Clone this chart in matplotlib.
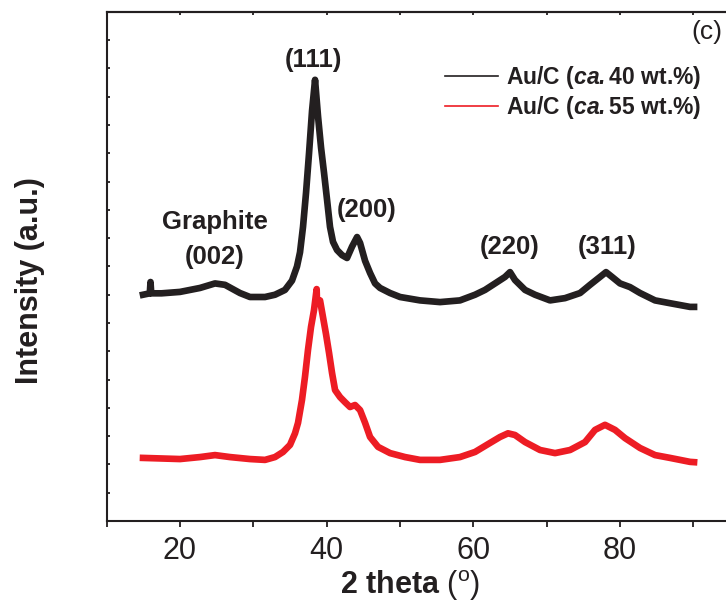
import matplotlib
matplotlib.use('Agg')
from matplotlib import pyplot as plt
from matplotlib import font_manager
from matplotlib.lines import Line2D

# values
theta_40 = [14.98, 15.9, 16.0, 16.1, 17.5, 20.02, 22.75, 24.79, 26.16, 28.2, 29.56, 31.61,
            32.97, 34.33, 35.29, 35.97, 36.38, 36.79, 37.2, 37.61, 38.02, 38.43, 38.84,
            39.25, 39.66, 40.07, 40.47, 40.88, 41.43, 42.11, 42.79, 43.47, 44.16, 44.57,
            45.25, 45.93, 46.61, 47.29, 48.66, 50.02, 52.74, 55.47, 58.19, 60.24, 61.6,
            62.97, 64.33, 65.01, 65.69, 67.06, 68.42, 70.47, 72.51, 74.56, 75.92, 77.28,
            78.1, 78.92, 80.01, 81.37, 82.74, 84.78, 86.83, 89.55, 90.1]
inten_40 = [8.0, 8.05, 8.45, 8.05, 8.05, 8.1, 8.24, 8.4, 8.35, 8.06, 7.92, 7.92,
            8.0, 8.17, 8.5, 9.0, 9.5, 10.4, 11.6, 13.0, 14.5, 15.6, 14.3,
            13.2, 12.3, 11.35, 10.4, 9.87, 9.58, 9.4, 9.3, 9.7, 10.04, 9.83,
            9.2, 8.77, 8.4, 8.24, 8.06, 7.92, 7.8, 7.74, 7.8, 8.0, 8.17,
            8.4, 8.63, 8.8, 8.52, 8.17, 8.0, 7.8, 7.88, 8.06, 8.35, 8.63,
            8.8, 8.63, 8.4, 8.27, 8.06, 7.8, 7.7, 7.57, 7.57]

theta_55 = [14.98, 20.02, 22.75, 24.79, 26.84, 29.56, 31.61, 32.97, 34.06, 35.02, 35.7,
            36.11, 36.65, 37.06, 37.47, 37.88, 38.29, 38.65, 38.7, 39.11, 39.52, 39.93,
            40.34, 40.75, 41.16, 41.84, 42.52, 43.2, 43.88, 44.57, 45.25, 45.93, 47.02,
            48.66, 50.7, 52.74, 55.47, 58.19, 60.24, 62.29, 63.65, 64.74, 65.69, 67.06,
            69.1, 71.15, 73.2, 75.24, 76.6, 77.96, 79.33, 80.69, 82.74, 84.78, 86.83,
            89.55, 90.1]
inten_55 = [2.23, 2.19, 2.26, 2.33, 2.26, 2.19, 2.16, 2.26, 2.44, 2.69, 3.1,
            3.47, 4.28, 5.1, 6.05, 6.86, 7.46, 8.2, 7.7, 7.8, 7.2, 6.6,
            5.94, 5.23, 4.63, 4.38, 4.2, 4.03, 4.1, 3.92, 3.47, 2.97, 2.62,
            2.4, 2.26, 2.16, 2.16, 2.26, 2.44, 2.76, 2.97, 3.1, 3.04, 2.79,
            2.51, 2.4, 2.51, 2.79, 3.22, 3.4, 3.22, 2.93, 2.58, 2.33, 2.23,
            2.09, 2.08]

peak_labels = ['(111)', 'Graphite', '(002)', '(200)', '(220)', '(311)']
peak_x = [38.15, 24.8, 24.8, 45.4, 64.9, 78.2]
peak_y = [16.3, 10.57, 9.33, 11.0, 9.69, 9.69]

series_names = [r'Au/C ($\mathbfit{ca.}$40 wt.%)', r'Au/C ($\mathbfit{ca.}$55 wt.%)']

ink = '#231f20'
red = '#ed1c24'

names = {f.name for f in font_manager.fontManager.ttflist}
narrow = 'Liberation Sans Narrow' in names

plt.rcParams['font.family'] = ['Liberation Sans', 'DejaVu Sans']
plt.rcParams['mathtext.fontset'] = 'custom'
plt.rcParams['mathtext.rm'] = 'Liberation Sans'
plt.rcParams['mathtext.it'] = 'Liberation Sans:italic'
plt.rcParams['mathtext.bf'] = 'Liberation Sans:bold'
if narrow:
    plt.rcParams['mathtext.bfit'] = 'Liberation Sans Narrow:bold:italic'
else:
    plt.rcParams['mathtext.bfit'] = 'Liberation Sans:bold:italic'

fig = plt.figure(figsize=(7.26, 6.06), dpi=100)
ax = fig.add_axes([0.1467, 0.1403, 0.8588, 0.840])

ax.plot(theta_40, inten_40, color=ink, lw=4.8, solid_joinstyle='round')
ax.plot(theta_55, inten_55, color=red, lw=4.8, solid_joinstyle='round')

ax.set_xlim(10, 95)
ax.set_ylim(0, 18)

for s in ax.spines.values():
    s.set_color(ink)
    s.set_linewidth(1.5)

ax.set_xticks([20, 40, 60, 80])
ax.set_xticks([10, 30, 50, 70, 90], minor=True)
ax.tick_params(axis='x', which='both', direction='out', length=4.5, width=1.3,
               color=ink, labelsize=22, labelcolor=ink, pad=6)
ax.set_yticks(range(1, 18))
ax.tick_params(axis='y', which='both', direction='in', length=2.5, width=1.3,
               color=ink, labelleft=False)

top = ax.secondary_xaxis('top')
top.set_xticks(range(10, 100, 10))
top.tick_params(direction='in', length=2.5, width=1.3, color=ink, labeltop=False)
top.spines['top'].set_color(ink)
top.spines['top'].set_linewidth(1.5)

ax.set_xlabel(r'$\mathbf{2\ theta}$ $\mathrm{(^{o})}$', fontsize=22, color=ink)
ax.xaxis.set_label_coords(0.487, -0.092)
ax.set_ylabel('Intensity (a.u.)', fontsize=22, fontweight='bold', color=ink)
ax.yaxis.set_label_coords(-0.099, 0.473)

for lab, px, py in zip(peak_labels, peak_x, peak_y):
    ax.text(px, py, lab, ha='center', va='center', fontsize=18.5,
            fontweight='bold', color=ink)
ax.text(91.9, 17.29, '(c)', ha='center', va='center', fontsize=19, color=ink)

handles = [Line2D([], [], color=ink, lw=1.2), Line2D([], [], color=red, lw=1.2)]
if narrow:
    lprop = {'family': 'Liberation Sans Narrow', 'weight': 'bold', 'size': 20}
else:
    lprop = {'family': 'Liberation Sans', 'weight': 'bold', 'size': 16.5}
leg = ax.legend(handles, series_names, loc='upper left', bbox_to_anchor=(0.543, 0.898),
                frameon=False, prop=lprop, handlelength=2.3, handletextpad=0.35,
                labelspacing=0.15, borderpad=0, borderaxespad=0)
for t in leg.get_texts():
    t.set_color(ink)

fig.savefig('out.png', dpi=100)
